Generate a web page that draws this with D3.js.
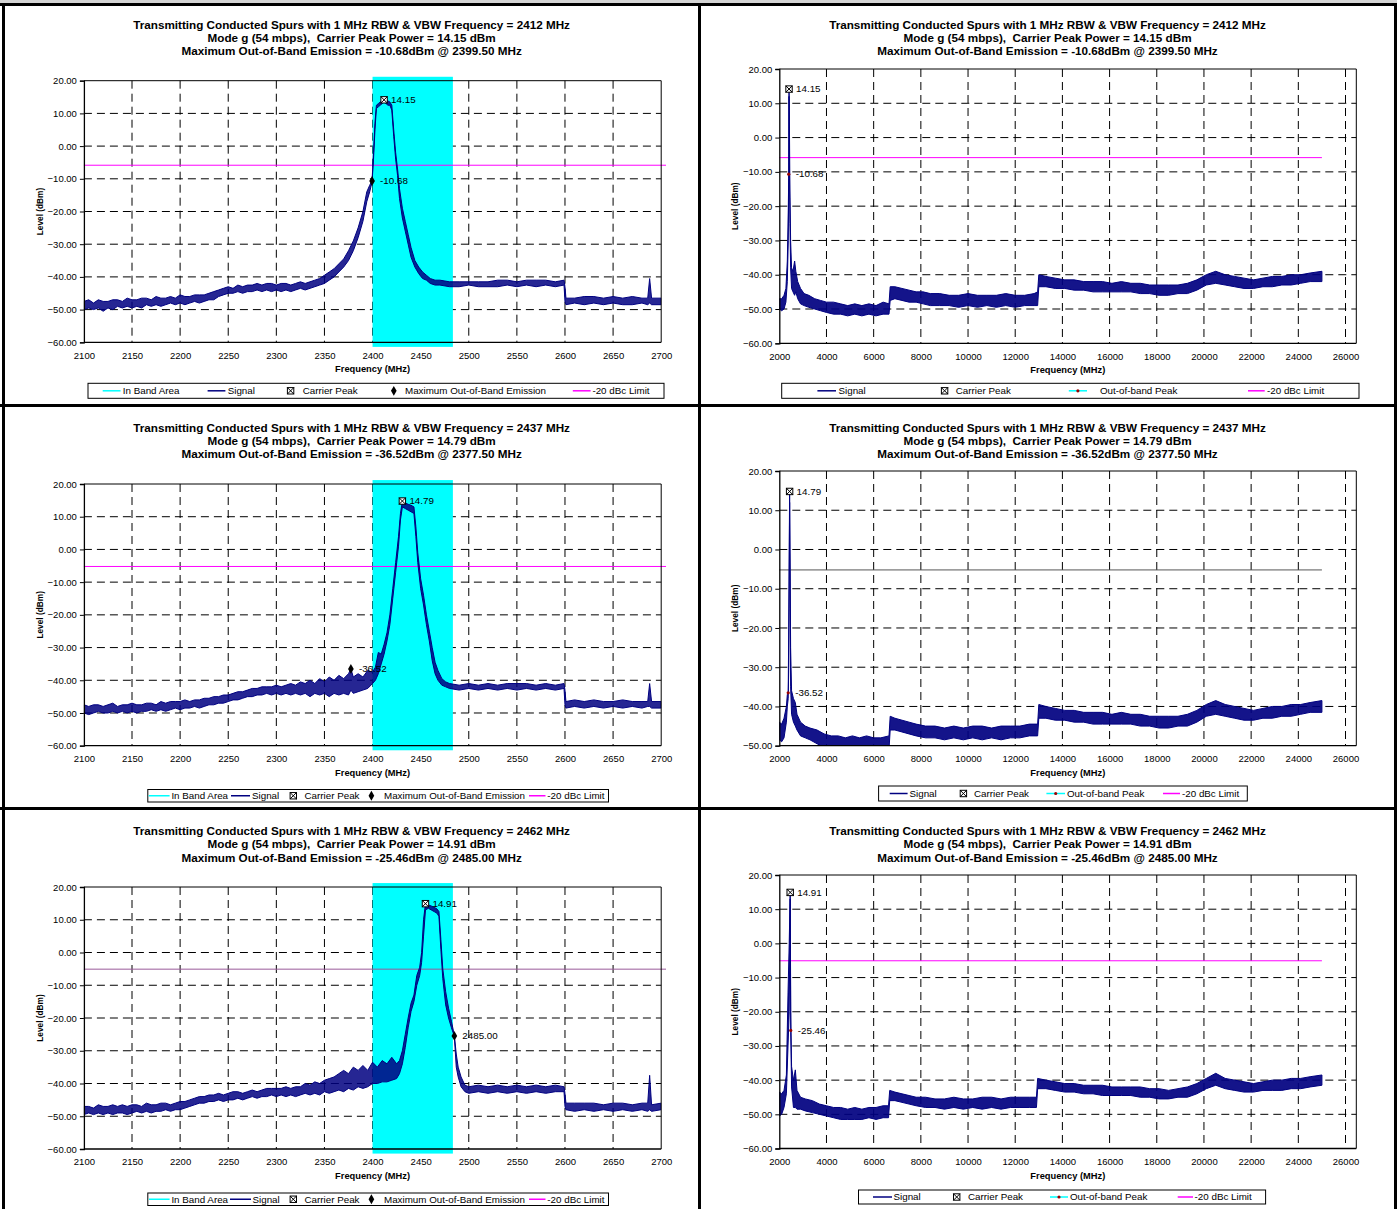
<!DOCTYPE html>
<html><head><meta charset="utf-8">
<script src="https://cdn.jsdelivr.net/npm/d3@7"></script>
<style>
body{margin:0;background:#fff}
svg{display:block}
text{font-family:"Liberation Sans",Arial,sans-serif;fill:#000;white-space:pre}
</style>
</head><body>
<svg id="c" width="1397" height="1209"></svg>
<script>
// ---------------- DATA ----------------
const channelFreqs = [2412, 2437, 2462];
const carrierPeakPower = [14.15, 14.79, 14.91];
const carrierPeakFreq = [2412, 2431, 2455];
const maxOobLevel = [-10.68, -36.52, -25.46];
const maxOobFreq = [2399.5, 2377.5, 2485.0];
const maxOobLeftLabels = ["-10.68", "-36.52", "2485.00"];
const limitLevels = [-5.85, -5.21, -5.09];
const inBandArea = [2400, 2483.5];

const leftXTicks = [2100, 2150, 2200, 2250, 2300, 2350, 2400, 2450, 2500, 2550, 2600, 2650, 2700];
const rightXTicks = [2000, 4000, 6000, 8000, 10000, 12000, 14000, 16000, 18000, 20000, 22000, 24000, 26000];
const yTicks80 = [-60, -50, -40, -30, -20, -10, 0, 10, 20];
const yTicks70 = [-50, -40, -30, -20, -10, 0, 10, 20];

const leftLegendLabels = ["In Band Area", "Signal", "Carrier Peak", "Maximum Out-of-Band Emission", "-20 dBc Limit"];
const rightLegendLabels = ["Signal", "Carrier Peak", "Out-of-band Peak", "-20 dBc Limit"];

// signal envelopes [freq MHz, low dBm, high dBm]
const tlSignal = [[2100,-50,-47.5],[2105,-49.5,-47],[2110,-50,-48],[2115,-49.5,-47],[2120,-50.5,-47.5],[2125,-49.5,-47.5],[2130,-50,-47],[2135,-49,-47],[2140,-49.5,-47.5],[2145,-49,-46.5],[2150,-49.5,-47],[2155,-49,-47],[2160,-49.5,-46.5],[2165,-48.5,-46.5],[2170,-49,-47],[2175,-48.5,-46],[2180,-49,-46.5],[2185,-48.5,-46.5],[2190,-48,-46],[2195,-48.5,-46.5],[2200,-48,-45.5],[2205,-48.5,-46],[2210,-48,-46],[2215,-47.5,-45.5],[2220,-48,-45.5],[2225,-47.5,-45.5],[2230,-47,-45],[2235,-47,-44.5],[2240,-46,-44],[2245,-45.5,-43.5],[2250,-45,-43],[2255,-45,-43.5],[2260,-44.5,-42.5],[2265,-45,-43],[2270,-44.5,-42.5],[2275,-44.5,-42.5],[2280,-44,-42],[2285,-44.5,-42.5],[2290,-44,-42],[2295,-44.5,-42],[2300,-44,-42.5],[2305,-44.5,-42],[2310,-44,-42],[2315,-44.5,-42.5],[2320,-44,-42],[2325,-43.5,-41.5],[2330,-44,-42],[2335,-43.5,-41.5],[2340,-43,-41],[2345,-42.5,-40.5],[2350,-42,-39.5],[2355,-41,-38.5],[2360,-40,-37.5],[2365,-38.5,-36],[2370,-37,-34.5],[2375,-35,-32],[2380,-32,-29],[2385,-28,-25],[2390,-23,-20],[2394,-17,-14],[2397,-14,-12],[2399.5,-11,-10.5],[2401,-4,-2],[2402.5,5,7],[2404,11.5,12.5],[2406,12,13],[2408,12.5,13.5],[2410,13,14],[2412,13.5,14.15],[2414,13,14.1],[2416,12.5,13.8],[2418,12.5,13.5],[2420,11,12.5],[2422,3,5],[2424,-4,-2],[2426,-9,-7],[2428,-16,-13],[2431,-22,-19],[2434,-26,-23],[2437,-30,-27],[2440,-34,-31],[2444,-37,-35],[2448,-39,-37],[2452,-40.5,-38.5],[2456,-41,-39.5],[2460,-42,-40.5],[2465,-42.5,-41],[2470,-42.5,-41],[2480,-43,-41.5],[2490,-43,-41.5],[2500,-42.5,-41.5],[2510,-43,-41.5],[2520,-43,-41.5],[2530,-43,-41],[2540,-42.5,-41],[2550,-43,-41.5],[2560,-42.5,-41],[2570,-43,-41],[2580,-42.5,-41],[2590,-43,-41.5],[2599,-42.5,-41],[2600,-47.5,-43],[2601,-48.5,-46.5],[2610,-48,-46.5],[2620,-48.5,-46],[2630,-48,-46],[2640,-48.5,-46.5],[2650,-48,-46],[2660,-48.5,-46.5],[2670,-48.5,-46],[2680,-48,-46.5],[2686,-48.5,-46.5],[2688,-48,-40.5],[2690,-48.5,-46.5],[2700,-48.5,-46.5]];

const mlSignal = [[2100,-50,-47.5],[2105,-50.5,-48],[2110,-50,-47.5],[2115,-49.5,-47.5],[2120,-50,-48],[2125,-50,-47.5],[2130,-49.5,-47],[2135,-50,-48],[2140,-49.5,-47.5],[2145,-50,-47.5],[2150,-49.5,-47],[2155,-50,-47.5],[2160,-49.5,-47.5],[2165,-49.5,-47],[2170,-49,-47],[2175,-49.5,-47.5],[2180,-49,-46.5],[2185,-49.5,-47],[2190,-49,-46.5],[2195,-48.5,-46.5],[2200,-49,-46.5],[2205,-48.5,-46],[2210,-48.5,-46.5],[2215,-48,-46],[2220,-48.5,-46],[2225,-48,-45.5],[2230,-47.5,-45.5],[2235,-47.5,-45],[2240,-47,-45],[2245,-47,-44.5],[2250,-46.5,-44.5],[2255,-46,-44],[2260,-46,-43.5],[2265,-45.5,-43.5],[2270,-45,-43],[2275,-45,-42.5],[2280,-44.5,-42.5],[2285,-44.5,-42],[2290,-44,-42],[2295,-44.5,-42],[2300,-44,-41.5],[2305,-44.5,-42],[2310,-44,-41.5],[2315,-44.5,-41],[2320,-44,-41.5],[2325,-44.5,-40.5],[2330,-44,-41],[2335,-45,-40],[2340,-44,-41],[2345,-44.5,-39.5],[2350,-44,-40.5],[2355,-45,-39],[2360,-44,-40],[2365,-44.5,-38.5],[2370,-44,-39.5],[2375,-44.5,-38],[2377.5,-43,-36.52],[2380,-44,-39],[2385,-43.5,-38],[2390,-43,-39],[2395,-42.5,-37],[2400,-41,-37.5],[2403,-40,-36],[2406,-38,-31.5],[2409,-35,-32],[2412,-32,-29],[2415,-28,-25.5],[2418,-23,-20],[2421,-15,-12],[2424,-7,-4],[2427,1,4],[2429,9,11],[2431,13,14.79],[2434,12.5,14.2],[2437,12,13.8],[2440,11.5,13.5],[2443,11,13],[2445,4,7],[2447,-4,-1],[2450,-12,-9],[2453,-17,-14],[2456,-23,-20],[2459,-28,-25],[2462,-34,-30],[2465,-38,-34.5],[2468,-40,-37],[2472,-41.5,-39.5],[2476,-42,-40.5],[2480,-42.5,-41],[2490,-43,-41.5],[2500,-42.5,-41],[2510,-43,-41.5],[2520,-42.5,-41],[2530,-43,-41.5],[2540,-42.5,-41],[2550,-43,-41],[2560,-42.5,-41],[2570,-43,-41.5],[2580,-42.5,-41],[2590,-43,-41.5],[2599,-42.5,-41],[2600,-47.5,-43],[2601,-48.5,-46.5],[2610,-48,-46],[2620,-48.5,-46.5],[2630,-48,-46],[2640,-48.5,-46.5],[2650,-48,-46.5],[2660,-48.5,-46],[2670,-48,-46.5],[2680,-48.5,-46.5],[2686,-48,-46.5],[2688,-48,-41],[2690,-48.5,-46.5],[2700,-48.5,-46.5]];

const blSignal = [[2100,-49.5,-47],[2105,-49,-47],[2110,-49.5,-47.5],[2115,-49,-46.5],[2120,-49.5,-47],[2125,-49,-47],[2130,-49.5,-46.5],[2135,-49,-47],[2140,-49,-46.5],[2145,-49.5,-47],[2150,-49,-46.5],[2155,-48.5,-46.5],[2160,-49,-47],[2165,-48.5,-46],[2170,-49,-46.5],[2175,-48.5,-46.5],[2180,-48.5,-46],[2185,-48,-46],[2190,-48.5,-46.5],[2195,-48,-46],[2200,-48,-45.5],[2205,-47.5,-45.5],[2210,-47,-45],[2215,-46.5,-44.5],[2220,-46,-44],[2225,-46,-44],[2230,-45.5,-43.5],[2235,-45.5,-43.5],[2240,-45,-43],[2245,-45.5,-43.5],[2250,-45,-43],[2255,-45,-42.5],[2260,-44.5,-42.5],[2265,-45,-43],[2270,-44.5,-42.5],[2275,-44,-42],[2280,-44.5,-42.5],[2285,-44,-42],[2290,-44,-41.5],[2295,-43.5,-41.5],[2300,-44,-41.5],[2305,-43.5,-41.5],[2310,-44,-41],[2315,-43.5,-41.5],[2320,-44,-41],[2325,-43.5,-41],[2330,-43,-40],[2335,-43.5,-40.5],[2340,-43,-39.5],[2345,-43.5,-40],[2350,-42.5,-39],[2355,-43,-38.5],[2360,-42.5,-38],[2365,-42,-37],[2370,-42.5,-36],[2375,-41.5,-37],[2380,-42,-35],[2385,-41,-36],[2390,-41.5,-34.5],[2395,-41,-36],[2400,-40,-33.5],[2405,-40,-35],[2410,-39.5,-33],[2415,-39.5,-34],[2420,-39,-32],[2425,-38.5,-34],[2428,-37,-33],[2431,-34,-30],[2434,-29,-25],[2437,-23,-20],[2440,-18,-15.5],[2443,-15,-13],[2446,-10,-7],[2449,-7,-4.5],[2451,-3,0],[2453,5,10],[2455,13,14.91],[2458,13.5,14.5],[2461,13,14.2],[2464,12.5,13.8],[2467,12,13.3],[2469,11,12.5],[2471,1,4],[2473,-8,-5],[2476,-16,-12],[2479,-20,-17],[2482,-23,-21],[2485,-25.6,-25.3],[2487,-35,-31],[2489,-38,-35],[2492,-41,-38],[2496,-42.5,-40.5],[2500,-43,-41],[2510,-42.5,-40.5],[2520,-43,-41],[2530,-42.5,-40.5],[2540,-43,-41],[2550,-42.5,-40.5],[2560,-43,-41],[2570,-42.5,-40.5],[2580,-43,-41],[2590,-42.5,-40.5],[2599,-42.5,-41],[2600,-47,-43],[2601,-48,-46],[2610,-48.5,-46],[2620,-48,-46],[2630,-48.5,-46],[2640,-48,-46.5],[2650,-48.5,-46],[2660,-48,-46],[2670,-48.5,-46.5],[2680,-48,-46],[2686,-48.5,-46],[2688,-48,-37.5],[2690,-48.5,-46.5],[2700,-48,-46]];

const trSignal = [[2000,-50,-47],[2100,-50.5,-47],[2200,-50,-46],[2280,-48,-44],[2340,-42,-36],[2380,-30,-22],[2399.5,-12,-10.68],[2412,12,14.15],[2425,-5,8],[2450,-25,-15],[2480,-38,-30],[2520,-44,-38],[2580,-45,-39],[2650,-46,-36],[2700,-45,-39],[2780,-47,-42],[2900,-48.5,-44],[3050,-49,-45.5],[3250,-49.5,-46],[3500,-50,-47],[3750,-50.5,-47.5],[4000,-51,-48],[4300,-51.5,-48],[4600,-51.5,-48.5],[4900,-52,-49],[5200,-51.5,-48.5],[5500,-52,-49],[5800,-51.5,-48.5],[6100,-52,-49],[6400,-51.5,-48],[6650,-51.5,-48.5],[6700,-47.5,-43.5],[6900,-47,-43.5],[7200,-47.5,-44],[7500,-48,-44.5],[7800,-48,-45],[8100,-48.5,-45],[8400,-49,-45.5],[8800,-49,-45.5],[9200,-49,-46],[9600,-49.5,-46],[10000,-49,-45.5],[10400,-49.5,-46],[10800,-49,-46],[11200,-49.5,-46],[11600,-49,-45.5],[12000,-49.5,-46],[12400,-49,-46],[12800,-49,-45.5],[12950,-49,-45],[13000,-43.5,-40],[13300,-43.5,-40.5],[13700,-44,-41],[14100,-44,-41.5],[14500,-44.5,-41.5],[14900,-44.5,-42],[15300,-45,-42],[15700,-45,-42],[16100,-45,-42.5],[16500,-45,-42],[16900,-45,-42.5],[17300,-45.5,-42.5],[17700,-45.5,-43],[18100,-46,-43],[18500,-46,-43],[18900,-45.5,-43],[19300,-45.5,-42.5],[19700,-44.5,-41.5],[20100,-43,-40],[20500,-42.5,-39],[20900,-43,-40],[21300,-43.5,-40.5],[21700,-44,-41],[22100,-44,-41.5],[22500,-43.5,-41],[22900,-43.5,-40.5],[23300,-43,-40.5],[23700,-43,-40],[24100,-42.5,-40],[24500,-42,-39.5],[25000,-42,-39]];

const mrSignal = [[2000,-48.5,-44],[2100,-49,-44.5],[2200,-48,-43],[2300,-44,-40],[2340,-40,-37],[2377.5,-38,-36.52],[2400,-30,-20],[2437,12,14.79],[2460,-15,-5],[2480,-35,-25],[2520,-42,-36],[2600,-44,-38],[2680,-45,-39],[2750,-46,-42],[2900,-47.5,-44],[3100,-48,-45],[3300,-48.5,-45.5],[3600,-49.5,-46],[3900,-50.5,-47],[4200,-50.5,-47.5],[4500,-51,-47.5],[4800,-51,-48],[5100,-51,-47.5],[5400,-51,-48],[5700,-51,-47.5],[6000,-51,-48],[6300,-51,-48],[6650,-51,-47.5],[6700,-46,-42.5],[6900,-46,-43],[7200,-46.5,-43.5],[7500,-47,-44],[7800,-47.5,-44.5],[8200,-48,-45],[8600,-48,-45],[9000,-48.5,-45.5],[9400,-48,-45],[9800,-48.5,-45.5],[10200,-48,-45],[10600,-48.5,-45],[11000,-48,-45.5],[11400,-48.5,-45],[11800,-48,-45],[12200,-48,-45],[12600,-47.5,-44.5],[12950,-47.5,-44.5],[13000,-43,-39.5],[13300,-43,-40],[13700,-43.5,-40.5],[14100,-43.5,-41],[14500,-44,-41],[14900,-44,-41.5],[15300,-44.5,-41.5],[15700,-44.5,-41.5],[16100,-44.5,-42],[16500,-44.5,-41.5],[16900,-44.5,-42],[17300,-45,-42],[17700,-45,-42.5],[18100,-45.5,-42.5],[18500,-45.5,-42.5],[18900,-45,-42.5],[19300,-45,-42],[19700,-44,-41],[20100,-42.5,-39.5],[20500,-42,-38.5],[20900,-42.5,-39.5],[21300,-43,-40],[21700,-43.5,-40.5],[22100,-43.5,-41],[22500,-43,-40.5],[22900,-43,-40],[23300,-42.5,-40],[23700,-42.5,-39.5],[24100,-42,-39.5],[24500,-41.5,-39],[25000,-41.5,-38.5]];

const brSignal = [[2000,-50.5,-43.5],[2100,-50,-44],[2200,-48,-43],[2300,-44,-38.5],[2370,-30,-14.5],[2420,-20,0],[2462,13,14.91],[2485,-26,-20],[2520,-42,-36],[2600,-48,-40],[2680,-48,-37],[2750,-48.5,-43],[2900,-48.5,-45],[3100,-49,-45.5],[3400,-49.5,-46],[3700,-50,-47],[4000,-50.5,-47.5],[4300,-51,-48],[4600,-51.5,-48],[4900,-51.5,-48.5],[5200,-51.5,-48],[5500,-51.5,-48.5],[5800,-51,-48],[6100,-51.5,-48],[6400,-51,-47.5],[6630,-51,-47.5],[6680,-46,-43],[6900,-46,-43.5],[7200,-46.5,-44],[7500,-47,-44.5],[7800,-47.5,-45],[8200,-48,-45],[8600,-48,-45.5],[9000,-48.5,-45.5],[9400,-48,-45],[9800,-48.5,-45.5],[10200,-48,-45.5],[10600,-48.5,-45],[11000,-48,-45],[11400,-48.5,-45.5],[11800,-48,-45],[12200,-48,-45],[12600,-48,-45],[12900,-48,-45],[12950,-42.5,-39.5],[13300,-42.5,-40],[13700,-43,-40.5],[14100,-43.5,-41],[14500,-43.5,-41],[14900,-44,-41.5],[15300,-44,-41.5],[15700,-44.5,-41.5],[16100,-44.5,-42],[16500,-44.5,-42],[16900,-44.5,-42],[17300,-45,-42],[17700,-45,-42.5],[18100,-45.5,-42.5],[18500,-45.5,-43],[18900,-45,-42.5],[19300,-45,-42],[19700,-44,-41],[20100,-42.5,-39.5],[20500,-41.5,-38],[20900,-42.5,-39.5],[21300,-43,-40],[21700,-43.5,-40.5],[22100,-43.5,-41],[22500,-43,-40.5],[22900,-43,-40],[23300,-43,-40],[23700,-42.5,-39.5],[24100,-42.5,-39.5],[24500,-42,-39],[25000,-41.5,-38.5]];

// ---------------- LAYOUT ----------------
const NAVY = "#000080", CYAN = "#00ffff", MAGENTA = "#ff00ff", OOBRED = "#990000";
const svg = d3.select("#c");

svg.append("rect").attr("x",0).attr("y",0).attr("width",1397).attr("height",1209).attr("fill","#fff");

const rowOff = [0, 403.2, 806.4];
const leftPanels = [
  {sig: tlSignal, yTop: 80.7, yBot: 342.3, legend: {box:[88,664,383.3,398.3], items:[[102.7,120.5,122.8],[207.6,225.4,227.7],[290.6,290.6,302.7],[393.8,393.8,405],[572.8,590.6,592.4]]}},
  {sig: mlSignal, yTop: 484, yBot: 745.7, legend: {box:[147.8,608.5,789.5,802], items:[[148.7,169.6,171.4],[231,250,252],[293.3,293.3,304.5],[371.4,371.4,384],[529,545.5,547.3]]}},
  {sig: blSignal, yTop: 887, yBot: 1149, legend: {box:[147.8,608.5,1193,1205.5], items:[[149,169.6,171.4],[230,251,252.5],[293.3,293.3,304.5],[371.4,371.4,384],[529,545.5,547.3]]}}
];
const rightPanels = [
  {sig: trSignal, yTop: 69, yBot: 343.3, yDom:[-60,20], yTicks: yTicks80, legend: {box:[781.7,1359,383.3,398.3], items:[[817.4,836,838.5],[944.6,944.6,955.8],[1068.8,1087,1100],[1248,1264.7,1267]]}},
  {sig: mrSignal, yTop: 471, yBot: 745.7, yDom:[-50,20], yTicks: yTicks70, legend: {box:[878.6,1247.3,786,801], items:[[889.7,907.6,909.5],[963.4,963.4,974],[1046.4,1065,1067],[1163,1180,1182]]}},
  {sig: brSignal, yTop: 875, yBot: 1148.5, yDom:[-60,20], yTicks: yTicks80, legend: {box:[858.5,1265.6,1190,1204], items:[[873,892,893.5],[956.7,956.7,968],[1050,1068,1070],[1177.7,1193,1194.6]]}}
];
const limitColors = [[MAGENTA, MAGENTA],[MAGENTA, "#555555"],["#9a5a9a", MAGENTA]];

function carrierMarker(g, cx, cy) {
  const s = 3.2;
  g.append("rect").attr("x",cx-s).attr("y",cy-s).attr("width",2*s).attr("height",2*s)
    .attr("fill","#fff").attr("stroke","#000").attr("stroke-width",1);
  g.append("path").attr("d",`M${cx-s},${cy-s}L${cx+s},${cy+s}M${cx+s},${cy-s}L${cx-s},${cy+s}`)
    .attr("stroke","#000").attr("stroke-width",1);
}
function diamondMarker(g, cx, cy) {
  g.append("path").attr("transform",`translate(${cx},${cy})`)
    .attr("d", d3.symbol(d3.symbolDiamond, 28)()).attr("fill","#000");
}

function titles(cx, r) {
  const lines = [
    `Transmitting Conducted Spurs with 1 MHz RBW & VBW Frequency = ${channelFreqs[r]} MHz`,
    `Mode g (54 mbps),  Carrier Peak Power = ${carrierPeakPower[r].toFixed(2)} dBm`,
    `Maximum Out-of-Band Emission = ${maxOobLevel[r].toFixed(2)}dBm @ ${maxOobFreq[r].toFixed(2)} MHz`
  ];
  lines.forEach((t,i) => {
    svg.append("text").attr("x",cx).attr("y",rowOff[r] + 28.5 + i*13.35)
      .attr("text-anchor","middle").attr("font-size","11.7px").attr("font-weight","bold").text(t);
  });
}

function drawPanel(r, side) {
  const isLeft = side === "left";
  const cfg = isLeft ? leftPanels[r] : rightPanels[r];
  const g = svg.append("g");
  const x0 = isLeft ? 83.9 : 779.3;
  const xFrameR = isLeft ? 661.2 : 1356.3;
  const x = isLeft
    ? d3.scaleLinear().domain([2100, 2700]).range([83.9, 661.2])
    : d3.scaleLinear().domain([2000, 26000]).range([779.3, 1345.5]);
  const yDom = isLeft ? [-60, 20] : cfg.yDom;
  const yT = isLeft ? yTicks80 : cfg.yTicks;
  const y = d3.scaleLinear().domain(yDom).range([cfg.yBot, cfg.yTop]);
  const xTicks = isLeft ? leftXTicks : rightXTicks;
  const clipId = `clip-${side}-${r}`;
  g.append("clipPath").attr("id", clipId).append("rect")
    .attr("x", x0).attr("y", cfg.yTop).attr("width", xFrameR - x0).attr("height", cfg.yBot - cfg.yTop);

  // gridlines
  const gridV = xTicks.filter(v => isLeft ? (v > 2100 && v < 2700) : v > 2000);
  g.selectAll(null).data(gridV).join("line")
    .attr("x1", d => x(d)).attr("x2", d => x(d)).attr("y1", cfg.yTop).attr("y2", cfg.yBot)
    .attr("stroke", "#000").attr("stroke-width", 1).attr("stroke-dasharray", "8,5");
  const gridH = yT.filter(v => v > yDom[0] && v < yDom[1]);
  g.selectAll(null).data(gridH).join("line")
    .attr("x1", x0).attr("x2", xFrameR).attr("y1", d => y(d)).attr("y2", d => y(d))
    .attr("stroke", "#000").attr("stroke-width", 1).attr("stroke-dasharray", "8,5");

  // in-band area
  if (isLeft) {
    g.append("rect").attr("x", x(inBandArea[0])).attr("width", x(inBandArea[1]) - x(inBandArea[0]))
      .attr("y", y(21.2)).attr("height", y(-61.4) - y(21.2)).attr("fill", CYAN);
  }

  // limit line
  const limDom = isLeft ? [2100, 2705] : [2000, 25000];
  g.append("line").attr("x1", x(limDom[0])).attr("x2", x(limDom[1]))
    .attr("y1", y(limitLevels[r])).attr("y2", y(limitLevels[r]))
    .attr("stroke", limitColors[r][isLeft ? 0 : 1]).attr("stroke-width", 1);

  // signal envelope
  const area = d3.area().x(d => x(d[0])).y0(d => y(d[1])).y1(d => y(d[2]));
  g.append("path").datum(cfg.sig).attr("d", area).attr("clip-path", `url(#${clipId})`)
    .attr("fill", NAVY).attr("fill-opacity", isLeft ? 0.85 : 0.92)
    .attr("stroke", NAVY).attr("stroke-width", 1).attr("stroke-linejoin", "round");

  // frame (top & right)
  g.append("path").attr("d", `M${x0},${cfg.yTop}H${xFrameR}V${cfg.yBot}`)
    .attr("fill", "none").attr("stroke", "#000").attr("stroke-width", 1);

  // axes
  const yAxis = d3.axisLeft(y).tickValues(yT).tickSize(4).tickPadding(3).tickFormat(d3.format(".2f"));
  const ya = g.append("g").attr("transform", `translate(${x0},0)`).call(yAxis);
  ya.select(".domain").attr("stroke", "#000").attr("stroke-width", 1.3);
  ya.selectAll("text").attr("font-size", "9.5px").attr("font-family", "Liberation Sans, Arial, sans-serif");
  const xAxis = d3.axisBottom(x).tickValues(xTicks).tickSize(0).tickPadding(9.5).tickFormat(d3.format("d"));
  const xa = g.append("g").attr("transform", `translate(0,${cfg.yBot})`).call(xAxis);
  xa.select(".domain").attr("d", `M${x0},0H${xFrameR}`).attr("stroke", "#000").attr("stroke-width", 1.3);
  xa.selectAll("text").attr("font-size", "9.5px").attr("font-family", "Liberation Sans, Arial, sans-serif");

  // axis titles
  g.append("text").attr("x", (x0 + xFrameR) / 2).attr("y", cfg.yBot + 30)
    .attr("text-anchor", "middle").attr("font-size", "9.3px").attr("font-weight", "bold").text("Frequency (MHz)");
  const lx = isLeft ? 42.5 : 737.5;
  g.append("text").attr("transform", `translate(${lx},${(cfg.yTop + cfg.yBot) / 2}) rotate(-90)`)
    .attr("text-anchor", "middle").attr("font-size", "8.3px").attr("font-weight", "bold").text("Level (dBm)");

  // markers
  const pf = isLeft ? carrierPeakFreq[r] : channelFreqs[r];
  carrierMarker(g, x(pf), y(carrierPeakPower[r]));
  g.append("text").attr("x", x(pf) + 7).attr("y", y(carrierPeakPower[r]) + 3.3)
    .attr("font-size", "9.8px").text(carrierPeakPower[r].toFixed(2));
  if (isLeft) {
    diamondMarker(g, x(maxOobFreq[r]), y(maxOobLevel[r]));
    g.append("text").attr("x", x(maxOobFreq[r]) + 8).attr("y", y(maxOobLevel[r]) + 3.3)
      .attr("font-size", "9.8px").text(maxOobLeftLabels[r]);
  } else {
    g.append("circle").attr("cx", x(maxOobFreq[r])).attr("cy", y(maxOobLevel[r])).attr("r", 1.6).attr("fill", OOBRED);
    g.append("text").attr("x", x(maxOobFreq[r]) + 7).attr("y", y(maxOobLevel[r]) + 3.3)
      .attr("font-size", "9.8px").text(maxOobLevel[r].toFixed(2));
  }

  // legend
  const L = cfg.legend;
  g.append("rect").attr("x", L.box[0]).attr("y", L.box[2]).attr("width", L.box[1] - L.box[0]).attr("height", L.box[3] - L.box[2])
    .attr("fill", "#fff").attr("stroke", "#000").attr("stroke-width", 1);
  const ly = (L.box[2] + L.box[3]) / 2;
  const labels = isLeft ? leftLegendLabels : rightLegendLabels;
  labels.forEach((lab, i) => {
    const it = L.items[i];
    const kind = isLeft ? ["band","signal","carrier","diamond","limit"][i] : ["signal","carrier","oob","limit"][i];
    if (kind === "band" || kind === "signal" || kind === "limit" || kind === "oob") {
      const col = kind === "band" ? CYAN : kind === "signal" ? NAVY : kind === "oob" ? CYAN : MAGENTA;
      g.append("line").attr("x1", it[0]).attr("x2", it[1]).attr("y1", ly).attr("y2", ly)
        .attr("stroke", col).attr("stroke-width", 1.5);
      if (kind === "oob") g.append("circle").attr("cx", (it[0] + it[1]) / 2).attr("cy", ly).attr("r", 1.6).attr("fill", OOBRED);
    } else if (kind === "carrier") {
      carrierMarker(g, it[0], ly);
    } else if (kind === "diamond") {
      diamondMarker(g, it[0], ly);
    }
    g.append("text").attr("x", it[2]).attr("y", ly + 3.4).attr("font-size", "9.8px").text(lab);
  });
}

[0,1,2].forEach(r => {
  drawPanel(r, "left");
  drawPanel(r, "right");
  titles(351.6, r);
  titles(1047.5, r);
});

// panel borders
svg.append("rect").attr("x",0).attr("y",0).attr("width",1397).attr("height",3).attr("fill","#d4d4d4");
const borderH = [4.5, 405.5, 808.5];
borderH.forEach(yy => svg.append("line").attr("x1",0).attr("x2",1397).attr("y1",yy).attr("y2",yy).attr("stroke","#000").attr("stroke-width",3));
[3.5, 699.5, 1395.5].forEach(xx => svg.append("line").attr("x1",xx).attr("x2",xx).attr("y1",3).attr("y2",1209).attr("stroke","#000").attr("stroke-width",3));
</script>
</body></html>
